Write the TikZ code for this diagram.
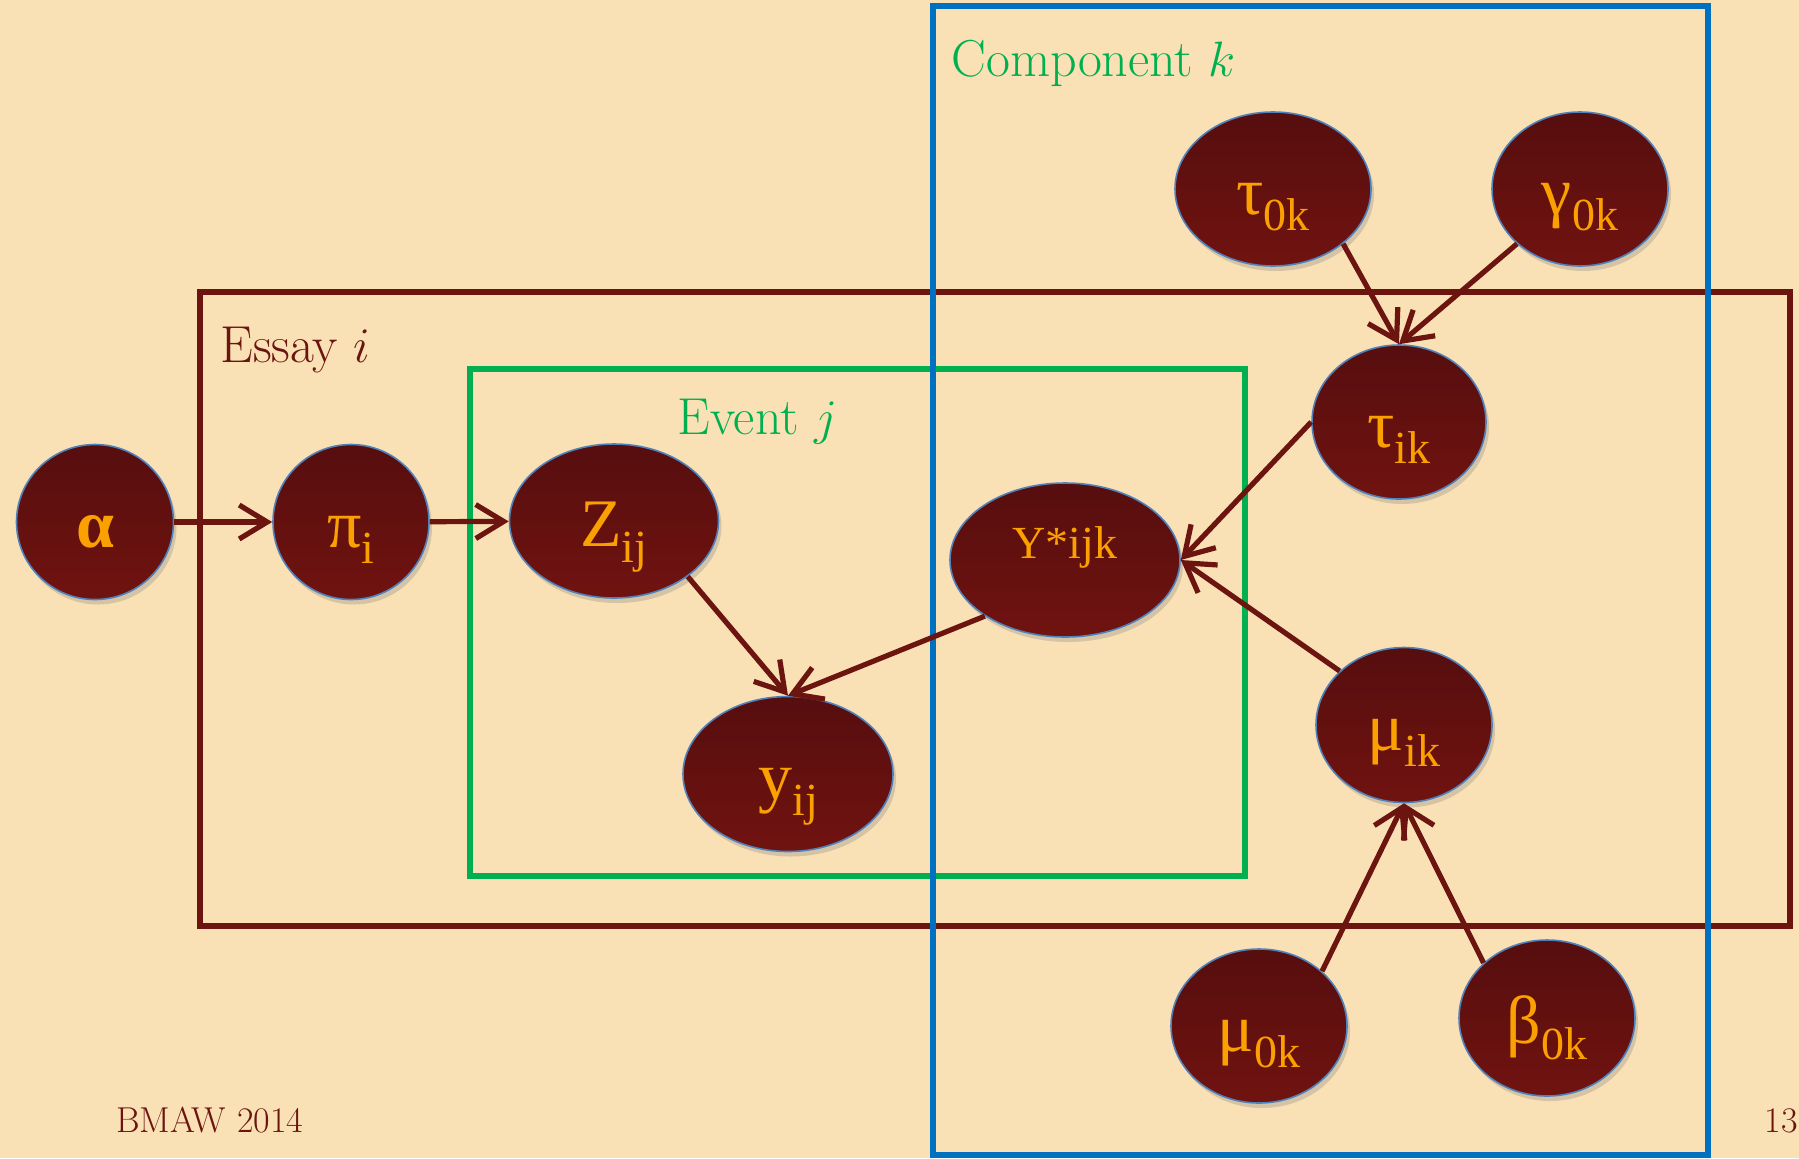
\documentclass[tikz,border=0pt]{standalone}
\usepackage{fontspec}
\usetikzlibrary{arrows.meta,shapes.geometric,shadows}
\newfontfamily\greekfont{Liberation Serif}
\definecolor{paper}{RGB}{249,225,181}
\definecolor{maroon}{RGB}{108,20,16}
\definecolor{nodetop}{RGB}{86,14,14}
\definecolor{nodebot}{RGB}{112,19,16}
\definecolor{rim}{RGB}{79,129,189}
\definecolor{gold}{RGB}{250,160,0}
\definecolor{eventgreen}{RGB}{0,176,80}
\definecolor{compblue}{RGB}{0,112,192}
\tikzset{
  var/.style={ellipse, draw=rim, line width=0.8pt, top color=nodetop, bottom color=nodebot,
    text=gold, inner sep=0pt, minimum width=88pt, minimum height=77pt,
    font=\greekfont\fontsize{34}{36}\selectfont, text height=30pt, text depth=5pt,
    drop shadow={shadow xshift=1.5pt, shadow yshift=-2.5pt, opacity=0.3}},
  plate/.style={line width=2.6pt},
  platelabel/.style={font=\fontsize{26}{30}\selectfont, anchor=base west, inner sep=0pt},
  footer/.style={font=\fontsize{18}{20}\selectfont, text=maroon, inner sep=0pt},
  dep/.style={-{Straight Barb[length=14pt,width=17pt]}, draw=maroon, line width=2.6pt},
}
\newcommand{\vsub}[2]{#1\raisebox{-8pt}{\fontsize{23}{24}\selectfont #2}}
\begin{document}
\begin{tikzpicture}[x=0.5pt,y=-0.5pt]
  \fill[paper] (0,0) rectangle (1799,1158);
  \useasboundingbox (0,0) rectangle (1799,1158);
  \draw[plate, maroon] (200,292) rectangle (1790,926);
  \draw[plate, eventgreen] (470,369) rectangle (1245,876);
  \draw[plate, compblue] (933,6) rectangle (1708,1155);
  \node[platelabel, text=eventgreen] (complabel) at (951,76) {Component $k$};
  \node[platelabel, text=maroon] (essaylabel) at (220,362) {Essay $i$};
  \node[platelabel, text=eventgreen] (eventlabel) at (677,434) {Event $j$};
  \node[var, minimum width=78.5pt, minimum height=77.5pt, font=\greekfont\bfseries\fontsize{34}{36}\selectfont] (alpha) at (95,522) {α};
  \node[var, minimum width=78pt, minimum height=77.5pt] (pi) at (351,522) {\vsub{π}{i}};
  \node[var, minimum width=104.5pt] (Z) at (614,521) {\vsub{Z}{ij}};
  \node[var, minimum width=105pt, minimum height=77.5pt] (y) at (788,774) {\vsub{y}{ij}};
  \node[var, minimum width=115pt, font=\greekfont\fontsize{23}{26}\selectfont, text height=16pt, text depth=18pt] (ystar) at (1065,560) {Y*ijk};
  \node[var, minimum width=98pt] (tau0) at (1273,189) {\vsub{τ}{0k}};
  \node[var] (gamma0) at (1580,189) {\vsub{γ}{0k}};
  \node[var, minimum width=87pt] (tau) at (1399,422) {\vsub{τ}{ik}};
  \node[var, minimum height=77.5pt] (mu) at (1404,725) {\vsub{μ}{ik}};
  \node[var] (mu0) at (1259,1026) {\vsub{μ}{0k}};
  \node[var, minimum height=78pt] (beta0) at (1547,1018) {\vsub{β}{0k}};
  \node[footer, anchor=base west] (venue) at (116,1132) {BMAW 2014};
  \node[footer, anchor=base east] (page) at (1798,1132) {13};
  \begin{scope}[dep]
    \draw (alpha) -- (pi);
    \draw (pi) -- (Z);
    \draw (Z.-37) -- (y.north);
    \draw (ystar.215) -- (y.north);
    \draw (tau.west) -- (ystar.east);
    \draw (mu.140) -- (ystar.east);
    \draw (tau0.-38) -- (tau.north);
    \draw (gamma0.221) -- (tau.north);
    \draw (mu0.41) -- (mu.south);
    \draw (beta0.139) -- (mu.south);
  \end{scope}
\end{tikzpicture}
\end{document}
